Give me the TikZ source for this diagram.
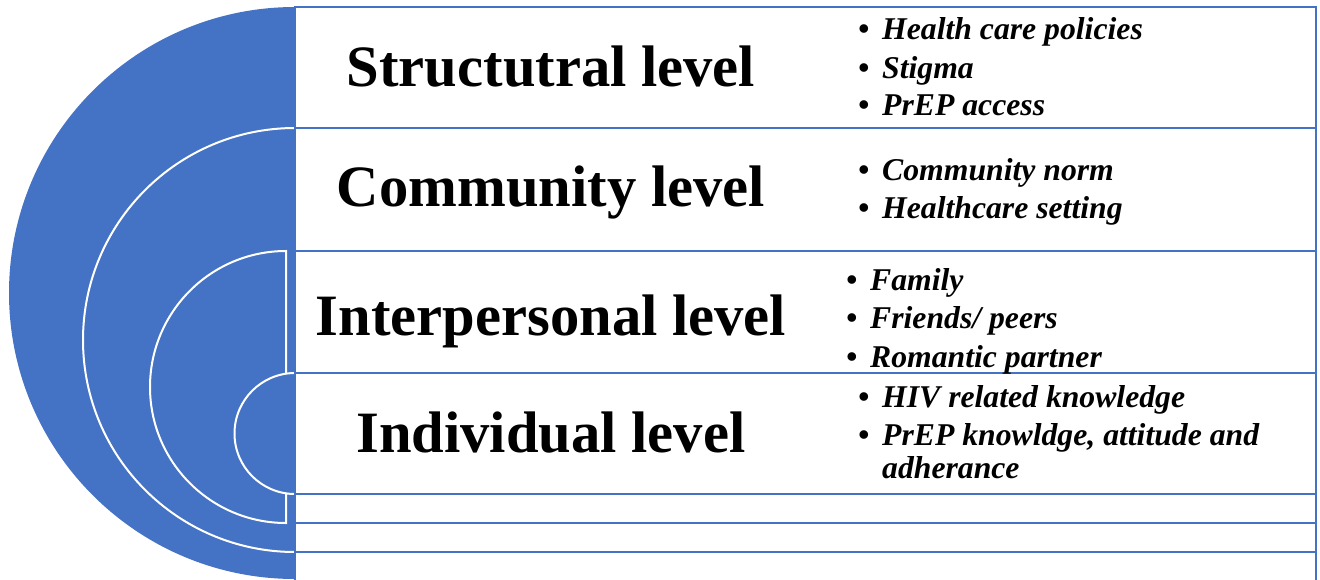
\documentclass[tikz,border=0pt]{standalone}
\usepackage{fontspec}
\setmainfont{Liberation Serif}
\definecolor{blu}{HTML}{4472C4}
\newcommand{\bul}{\makebox[24pt][l]{\textbullet}}
\begin{document}
\begin{tikzpicture}[x=1pt,y=-1pt,
  rowbox/.style={draw=blu,line width=2.5pt},
  ring/.style={fill=blu,draw=white,line width=2pt},
  head/.style={anchor=base,inner sep=0pt,font=\bfseries\fontsize{58.6}{70}\selectfont},
  itm/.style={anchor=base west,inner sep=0pt,font=\bfseries\itshape\fontsize{31.7}{37}\selectfont}]
\useasboundingbox (0,0) rectangle (1320,579);
% nested half discs
\fill[blu] (295,7) arc[start angle=270,end angle=90,radius=286] -- cycle;
\filldraw[ring] (295,128) arc[start angle=270,end angle=90,radius=212] -- cycle;
\filldraw[ring] (286,251) arc[start angle=270,end angle=90,radius=136] -- cycle;
\filldraw[ring] (295,373) arc[start angle=270,end angle=90,radius=60.5] -- cycle;
% bands
\draw[rowbox] (295,7) rectangle (1316,128);
\draw[rowbox] (295,128) rectangle (1316,251);
\draw[rowbox] (295,251) rectangle (1316,373);
\draw[rowbox] (295,373) rectangle (1316,494);
\draw[rowbox] (295,494) rectangle (1316,523);
\draw[rowbox] (295,523) rectangle (1316,552);
\draw[rowbox] (295,590) -- (295,552) -- (1316,552) -- (1316,590);
% headings
\node[head] (h1) at (551,86) {Structutral level};
\node[head] (h2) at (551,206) {Community level};
\node[head] (h3) at (551,335) {Interpersonal level};
\node[head] (h4) at (551,452) {Individual level};
% items
\node[itm] (a1) at (858,39) {\bul Health care policies};
\node[itm] (a2) at (858,78) {\bul Stigma};
\node[itm] (a3) at (858,115) {\bul PrEP access};
\node[itm] (b1) at (858,180) {\bul Community norm};
\node[itm] (b2) at (858,218) {\bul Healthcare setting};
\node[itm] (c1) at (846,290) {\bul Family};
\node[itm] (c2) at (846,328) {\bul Friends/ peers};
\node[itm] (c3) at (846,367) {\bul Romantic partner};
\node[itm] (d1) at (858,407) {\bul HIV related knowledge};
\node[itm] (d2) at (858,445) {\bul PrEP knowldge, attitude and};
\node[itm] (d3) at (882,478) {adherance};
\end{tikzpicture}
\end{document}
